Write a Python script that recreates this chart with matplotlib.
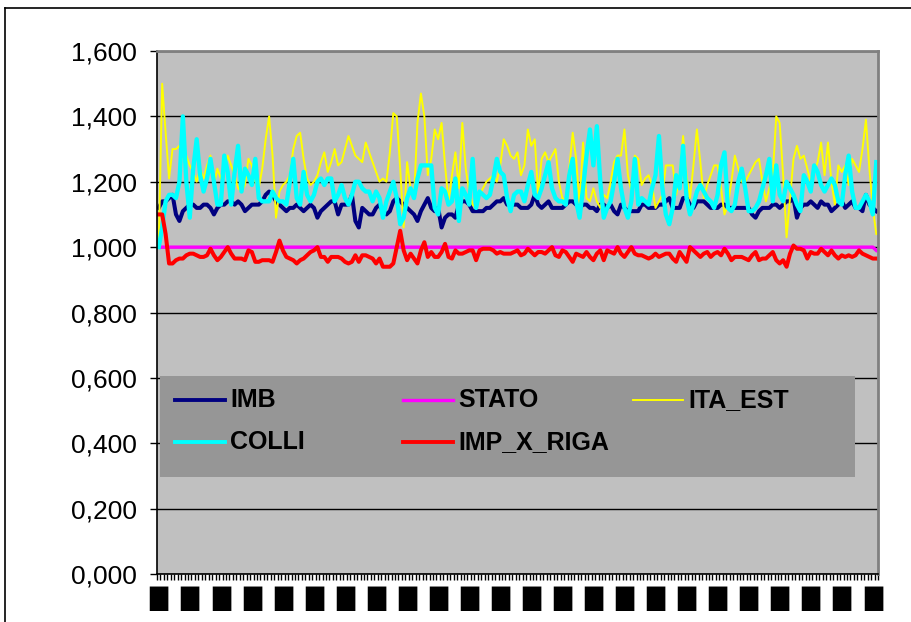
import numpy as np
import matplotlib.pyplot as plt
from matplotlib.lines import Line2D
from matplotlib.patches import Rectangle
from matplotlib.ticker import FuncFormatter

# serie giornaliere (indici)
imb = [1.12, 1.14, 1.14, 1.15, 1.16, 1.10, 1.08, 1.11, 1.12, 1.13, 1.13, 1.12, 1.12, 1.13, 1.13, 1.12, 1.10, 1.12, 1.13,
       1.13, 1.14, 1.14, 1.13, 1.14, 1.13, 1.11, 1.12, 1.13, 1.13, 1.13, 1.14, 1.16, 1.17, 1.16, 1.14, 1.13, 1.12, 1.11, 1.12,
       1.12, 1.13, 1.12, 1.11, 1.12, 1.13, 1.12, 1.09, 1.11, 1.12,
       1.13, 1.14, 1.14, 1.10, 1.13, 1.13, 1.13, 1.16, 1.08, 1.06, 1.12, 1.11, 1.10, 1.10, 1.12, 1.13, 1.11, 1.10, 1.11, 1.14,
       1.15, 1.14, 1.13, 1.12, 1.11, 1.10, 1.08, 1.11, 1.13, 1.15,
       1.12, 1.11, 1.12, 1.06, 1.09, 1.10, 1.10, 1.09, 1.13, 1.14, 1.14, 1.13, 1.11, 1.11, 1.11, 1.11, 1.12, 1.12, 1.13, 1.14,
       1.14, 1.15, 1.13, 1.13, 1.13, 1.13, 1.12, 1.12, 1.12, 1.13,
       1.16, 1.13, 1.12, 1.13, 1.14, 1.12, 1.12, 1.12, 1.12, 1.13, 1.14, 1.14, 1.13, 1.12, 1.13, 1.13, 1.12, 1.12, 1.11, 1.13,
       1.13, 1.12, 1.13, 1.11, 1.10, 1.13, 1.12, 1.11, 1.11, 1.11,
       1.11, 1.13, 1.13, 1.12, 1.12, 1.12, 1.13, 1.13, 1.14, 1.15, 1.12, 1.12, 1.12, 1.15, 1.15, 1.13, 1.12, 1.14, 1.14, 1.14,
       1.13, 1.12, 1.12, 1.12, 1.13, 1.13, 1.12, 1.12, 1.12, 1.12, 1.12,
       1.12, 1.12, 1.10, 1.09, 1.11, 1.12, 1.12, 1.12, 1.13, 1.13, 1.12, 1.13, 1.14, 1.14, 1.15, 1.09, 1.12, 1.13, 1.13, 1.14,
       1.13, 1.12, 1.14, 1.13, 1.13, 1.11, 1.12, 1.13, 1.14,
       1.12, 1.13, 1.14, 1.12, 1.12, 1.11, 1.16, 1.13, 1.12, 1.11]

stato = [1.00] * 208 + [0.99]

ita_est = [1.00, 1.50, 1.35, 1.21, 1.30, 1.30, 1.31, 1.27, 1.28, 1.25, 1.23, 1.20, 1.24, 1.21, 1.25, 1.28, 1.19, 1.24, 1.21,
           1.24, 1.28, 1.25, 1.22, 1.18, 1.17, 1.19, 1.27, 1.25, 1.20, 1.18, 1.24, 1.33, 1.40, 1.28, 1.09, 1.17, 1.19, 1.20,
           1.22, 1.30, 1.34, 1.35, 1.27, 1.21, 1.19, 1.20, 1.22, 1.26, 1.29,
           1.23, 1.26, 1.30, 1.25, 1.26, 1.30, 1.34, 1.31, 1.28, 1.27, 1.26, 1.32, 1.29, 1.26, 1.23, 1.20, 1.21, 1.20, 1.29,
           1.41, 1.40, 1.24, 1.06, 1.26, 1.18, 1.15, 1.38, 1.47, 1.40, 1.22,
           1.27, 1.36, 1.33, 1.38, 1.25, 1.14, 1.22, 1.29, 1.18, 1.38, 1.24, 1.17, 1.13, 1.12, 1.16, 1.18, 1.20, 1.21, 1.22,
           1.20, 1.25, 1.33, 1.31, 1.28, 1.27, 1.29, 1.22, 1.25, 1.36, 1.31,
           1.33, 1.16, 1.27, 1.29, 1.26, 1.28, 1.30, 1.20, 1.15, 1.14, 1.24, 1.35, 1.27, 1.13, 1.32, 1.15, 1.14, 1.18, 1.14,
           1.12, 1.16, 1.15, 1.20, 1.26, 1.28, 1.28, 1.36, 1.22, 1.17, 1.28,
           1.27, 1.19, 1.21, 1.22, 1.19, 1.12, 1.14, 1.16, 1.25, 1.25, 1.25, 1.16, 1.22, 1.34, 1.22, 1.15, 1.25, 1.36, 1.26,
           1.15, 1.19, 1.22, 1.25, 1.25, 1.18, 1.10, 1.13, 1.20, 1.28, 1.24, 1.20,
           1.20, 1.22, 1.24, 1.26, 1.27, 1.20, 1.14, 1.18, 1.22, 1.40, 1.38, 1.22, 1.03, 1.15, 1.27, 1.31, 1.27, 1.28, 1.24,
           1.20, 1.23, 1.26, 1.32, 1.22, 1.32, 1.20, 1.13, 1.25, 1.23,
           1.25, 1.19, 1.27, 1.25, 1.23, 1.30, 1.39, 1.24, 1.12, 1.04]

colli = [1.00, 1.06, 1.14, 1.16, 1.16, 1.15, 1.20, 1.40, 1.20, 1.09, 1.24, 1.33, 1.22, 1.17, 1.21, 1.27, 1.20, 1.13, 1.13,
         1.28, 1.23, 1.13, 1.23, 1.31, 1.17, 1.24, 1.22, 1.19, 1.27, 1.15, 1.14, 1.14, 1.14, 1.17, 1.15, 1.14, 1.14, 1.13,
         1.20, 1.27, 1.15, 1.13, 1.23, 1.16, 1.14, 1.16, 1.20, 1.21, 1.19,
         1.21, 1.21, 1.14, 1.16, 1.19, 1.15, 1.13, 1.16, 1.20, 1.20, 1.18, 1.17, 1.17, 1.14, 1.17, 1.15, 1.09, 1.14, 1.17,
         1.20, 1.15, 1.07, 1.09, 1.15, 1.18, 1.15, 1.21, 1.25, 1.25, 1.25,
         1.25, 1.12, 1.10, 1.18, 1.17, 1.13, 1.14, 1.21, 1.08, 1.18, 1.16, 1.13, 1.27, 1.12, 1.17, 1.16, 1.15, 1.16, 1.21,
         1.27, 1.23, 1.22, 1.15, 1.11, 1.16, 1.17, 1.17, 1.14, 1.19, 1.23,
         1.16, 1.15, 1.18, 1.22, 1.26, 1.18, 1.15, 1.14, 1.14, 1.13, 1.22, 1.27, 1.14, 1.09, 1.18, 1.28, 1.36, 1.25, 1.37,
         1.20, 1.09, 1.12, 1.14, 1.20, 1.27, 1.18, 1.12, 1.09, 1.14, 1.27,
         1.13, 1.15, 1.14, 1.13, 1.18, 1.22, 1.34, 1.18, 1.10, 1.07, 1.12, 1.22, 1.18, 1.31, 1.15, 1.10, 1.13, 1.17, 1.19,
         1.17, 1.15, 1.14, 1.12, 1.16, 1.25, 1.29, 1.12, 1.11, 1.13, 1.20, 1.24,
         1.18, 1.11, 1.11, 1.12, 1.14, 1.18, 1.22, 1.27, 1.14, 1.25, 1.16, 1.14, 1.20, 1.18, 1.16, 1.13, 1.11, 1.22, 1.20,
         1.17, 1.25, 1.23, 1.19, 1.17, 1.19, 1.21, 1.19, 1.14, 1.13,
         1.22, 1.28, 1.17, 1.12, 1.12, 1.14, 1.16, 1.14, 1.10, 1.26]

imp_x_riga = [1.10, 1.10, 1.04, 0.95, 0.95, 0.96, 0.965, 0.965, 0.975, 0.98, 0.98, 0.975, 0.97, 0.97, 0.975, 0.995, 0.975,
              0.96, 0.97,
              0.985, 1.00, 0.98, 0.965, 0.965, 0.965, 0.96, 0.99, 0.985, 0.955, 0.955, 0.96, 0.96, 0.96, 0.955, 0.985, 1.02,
              0.99, 0.97, 0.965, 0.96, 0.95, 0.96, 0.965, 0.975, 0.985, 0.99, 1.00, 0.97, 0.97,
              0.955, 0.97, 0.97, 0.97, 0.965, 0.955, 0.95, 0.955, 0.975, 0.955, 0.975, 0.975, 0.97, 0.965, 0.95, 0.965, 0.94,
              0.94, 0.94, 0.95, 1.00, 1.05, 0.99, 0.96, 0.98, 0.965, 0.95, 0.99, 1.015, 0.97,
              0.985, 0.97, 0.97, 0.985, 1.01, 0.97, 0.965, 0.99, 0.98, 0.98, 0.985, 0.99, 0.99, 0.96, 0.99, 0.995, 0.995, 0.995,
              0.99, 0.98, 0.985, 0.98, 0.98, 0.98, 0.985, 0.99, 0.975, 0.98, 0.995, 0.985,
              0.975, 0.985, 0.985, 0.98, 0.99, 1.00, 0.975, 0.97, 0.99, 0.985, 0.97, 0.955, 0.98, 0.975, 0.97, 0.985, 0.97,
              0.96, 0.98, 0.99, 0.96, 0.99, 0.985, 0.98, 1.00, 0.98, 0.97, 0.985, 1.00, 0.98,
              0.975, 0.975, 0.97, 0.965, 0.97, 0.98, 0.97, 0.975, 0.98, 0.98, 0.965, 0.955, 0.985, 0.97, 0.955, 1.00, 0.99,
              0.98, 0.97, 0.98, 0.985, 0.97, 0.98, 0.985, 0.975, 0.995, 0.98, 0.96, 0.97, 0.97, 0.97,
              0.965, 0.96, 0.975, 0.985, 0.96, 0.965, 0.965, 0.975, 0.985, 0.96, 0.95, 0.96, 0.94, 0.98, 1.005, 0.995, 0.995,
              0.99, 0.965, 0.985, 0.98, 0.98, 0.995, 0.985, 0.975, 0.99, 0.975, 0.965, 0.975,
              0.97, 0.975, 0.97, 0.975, 0.99, 0.98, 0.975, 0.97, 0.965, 0.965]

nomi = ['IMB', 'STATO', 'ITA_EST', 'COLLI', 'IMP_X_RIGA']
serie = [imb, stato, ita_est, colli, imp_x_riga]
colori = ['#000080', '#FF00FF', '#FFFF00', '#00FFFF', '#FF0000']
spessori = [2.9, 2.4, 1.4, 3.1, 2.9]

W, H = 912, 622
fig = plt.figure(figsize=(W / 100, H / 100), dpi=100)
fig.patch.set_facecolor('white')


def fx(px):
    return px / W


def fy(py):
    return 1 - py / H


ax = fig.add_axes([fx(157), fy(574), (878 - 157) / W, (574 - 51) / H])
ax.set_facecolor('#C0C0C0')

n = len(imb)
x = np.arange(n)
for s, c, lw in zip(serie, colori, spessori):
    ax.plot(x, s, color=c, lw=lw, solid_joinstyle='round')

ax.set_xlim(-0.5, n - 0.5)
ax.set_ylim(0, 1.6)

# griglia orizzontale
ax.set_yticks(np.arange(0, 1.61, 0.2))
ax.yaxis.grid(True, color='black', lw=1.0)
ax.set_axisbelow(True)
ax.yaxis.set_major_formatter(FuncFormatter(lambda v, p: f'{v:.3f}'.replace('.', ',')))
ax.tick_params(axis='y', direction='out', length=5, width=1, pad=9.5,
               labelsize=19, labelfontfamily='Liberation Sans')

# tacche tra le categorie, etichette ogni 9 giorni
ax.set_xticks(np.arange(n + 1) - 0.5)
ax.set_xticklabels([])
ax.tick_params(axis='x', which='major', direction='out', length=4, width=1)
ax.set_xticks(np.arange(0, n, 9), minor=True)
ax.set_xticklabels(['█'] * len(np.arange(0, n, 9)), minor=True)
ax.tick_params(axis='x', which='minor', length=0, pad=9, labelsize=17)

ax.spines['top'].set_color('#808080')
ax.spines['right'].set_color('#808080')
ax.spines['top'].set_linewidth(2)
ax.spines['right'].set_linewidth(2)
ax.spines['left'].set_linewidth(1.2)
ax.spines['bottom'].set_linewidth(1.2)

# legenda
fig.add_artist(Rectangle((fx(160), fy(477)), (855 - 160) / W, (477 - 376) / H,
                         transform=fig.transFigure, facecolor='#969696', edgecolor='none', zorder=5))
pos = [(175, 400), (403, 400), (633, 400), (175, 442), (403, 442)]
for (px, py), nome, c, lw in zip(pos, nomi, colori, spessori):
    fig.add_artist(Line2D([fx(px), fx(px + 50)], [fy(py), fy(py)], transform=fig.transFigure,
                          color=c, lw=min(lw, 2.8), zorder=6))
    fig.text(fx(px + 55), fy(py), nome, fontsize=18, fontweight='bold', family='Liberation Sans',
             va='center', ha='left', zorder=6)

# cornice del grafico
fig.add_artist(Line2D([fx(5), fx(5)], [0, fy(8)], transform=fig.transFigure, color='black', lw=1.2))
fig.add_artist(Line2D([fx(5), 1], [fy(8), fy(8)], transform=fig.transFigure, color='black', lw=1.2))

fig.savefig('out.png', dpi=100)
